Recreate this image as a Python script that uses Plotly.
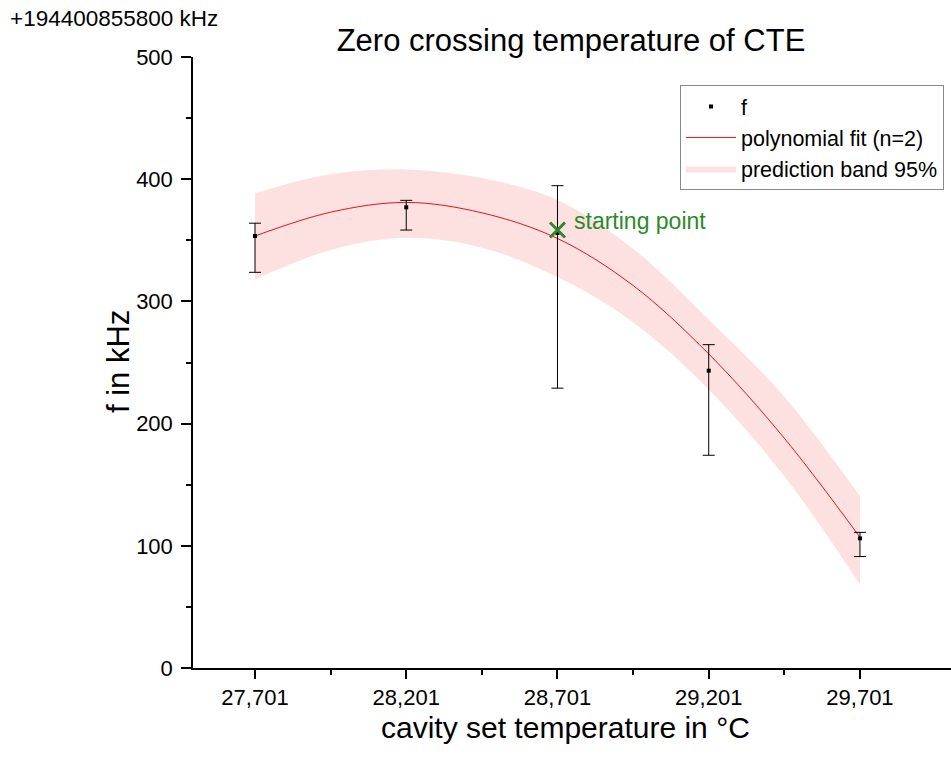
import plotly.graph_objects as go

# ---- data ----
x_pts = [27.701, 28.201, 28.701, 29.201, 29.701]
f_vals = [353.5, 377.0, 356.0, 243.3, 106.1]
err_plus = [10.5, 5.7, 38.7, 21.3, 4.9]
err_minus = [29.7, 18.6, 127.0, 69.2, 14.9]

fit_x = [27.701, 27.951, 28.201, 28.451, 28.701, 28.951, 29.201, 29.451, 29.701]
fit_y = [353.5, 373.0, 381.0, 372.5, 351.5, 313.0, 257.0, 188.0, 107.0]
band_upper = [388.5, 404.0, 408.0, 401.0, 383.0, 343.0, 285.0, 222.0, 140.5]
band_lower = [318.0, 342.0, 352.0, 344.0, 320.0, 283.0, 228.0, 157.0, 68.5]

start_x = [28.701]
start_y = [358.4]

x_tick_vals = [27.701, 28.201, 28.701, 29.201, 29.701]
x_tick_text = ["27,701", "28,201", "28,701", "29,201", "29,701"]
x_minor_vals = [27.951, 28.451, 28.951, 29.451]
y_tick_vals = [0, 100, 200, 300, 400, 500]

FONT = "Liberation Sans, Arial, sans-serif"
GREEN = "#2a8a2a"

fig = go.Figure()

fig.add_trace(go.Scatter(
    x=fit_x, y=band_lower, mode="lines", line=dict(width=0, shape="spline"),
    showlegend=False, hoverinfo="skip"))
fig.add_trace(go.Scatter(
    x=fit_x, y=band_upper, mode="lines", line=dict(width=0, shape="spline"),
    fill="tonexty", fillcolor="#fde0e0", name="prediction band 95%",
    legendrank=3))
fig.add_trace(go.Scatter(
    x=fit_x, y=fit_y, mode="lines", line=dict(color="#e3141e", width=1, shape="spline"),
    name="polynomial fit (n=2)", legendrank=2))
fig.add_trace(go.Scatter(
    x=x_pts, y=f_vals, mode="markers",
    marker=dict(symbol="square", size=4, color="black"),
    error_y=dict(type="data", symmetric=False, array=err_plus, arrayminus=err_minus,
                 color="black", thickness=1, width=6),
    name="f", legendrank=1))
fig.add_trace(go.Scatter(
    x=start_x, y=start_y, mode="markers",
    marker=dict(symbol="x-thin", size=15, line=dict(color=GREEN, width=3)),
    showlegend=False))

fig.add_annotation(text="starting point", x=start_x[0], y=start_y[0], xref="x", yref="y",
                   xanchor="left", yanchor="middle", xshift=15, yshift=9, showarrow=False,
                   font=dict(family=FONT, size=23, color=GREEN))

fig.update_layout(
    width=951, height=762,
    margin=dict(l=193, r=0, t=57, b=94, autoexpand=False),
    paper_bgcolor="white", plot_bgcolor="white",
    font=dict(family=FONT, color="black", size=22),
    title=dict(text="Zero crossing temperature of CTE", x=571 / 951, xanchor="center",
               y=1 - 40 / 762, yanchor="middle", font=dict(family=FONT, size=31, color="black")),
    legend=dict(x=(680 - 193) / 758, y=(668 - 85) / 611, xanchor="left", yanchor="top",
                bgcolor="white", bordercolor="#888", borderwidth=1, traceorder="normal",
                font=dict(family=FONT, size=21.5), itemwidth=50, tracegroupgap=0),
    showlegend=True,
)

fig.update_xaxes(
    range=[27.496, 30.002], tickvals=x_tick_vals, ticktext=x_tick_text,
    showgrid=False, zeroline=False, showline=True, linecolor="black", linewidth=1.5,
    ticks="outside", ticklen=9, tickwidth=1.5, tickcolor="black",
    tickfont=dict(family=FONT, size=22),
    minor=dict(ticks="outside", ticklen=5, tickwidth=1.5, tickcolor="black", tickvals=x_minor_vals),
)
fig.update_yaxes(
    range=[0, 500], tickvals=y_tick_vals,
    showgrid=False, zeroline=False, showline=True, linecolor="black", linewidth=1.5,
    ticks="outside", ticklen=10, tickwidth=1.5, tickcolor="black", ticklabelstandoff=4,
    tickfont=dict(family=FONT, size=22),
    minor=dict(ticks="outside", ticklen=5, tickwidth=1.5, tickcolor="black", dtick=50, tick0=0),
)

fig.add_annotation(text="+194400855800 kHz", xref="paper", yref="paper",
                   x=(8 - 193) / 758, y=(668 - 18) / 611, xanchor="left", yanchor="middle",
                   showarrow=False, font=dict(family=FONT, size=22.5, color="black"))
fig.add_annotation(text="f in kHz", xref="paper", yref="paper",
                   x=(118 - 193) / 758, y=(668 - 362) / 611, xanchor="center", yanchor="middle",
                   textangle=-90, showarrow=False, font=dict(family=FONT, size=31, color="black"))
fig.add_annotation(text="cavity set temperature in °C", xref="paper", yref="paper",
                   x=(565 - 193) / 758, y=(668 - 727) / 611, xanchor="center", yanchor="middle",
                   showarrow=False, font=dict(family=FONT, size=30, color="black"))

fig.write_html("out.html")
